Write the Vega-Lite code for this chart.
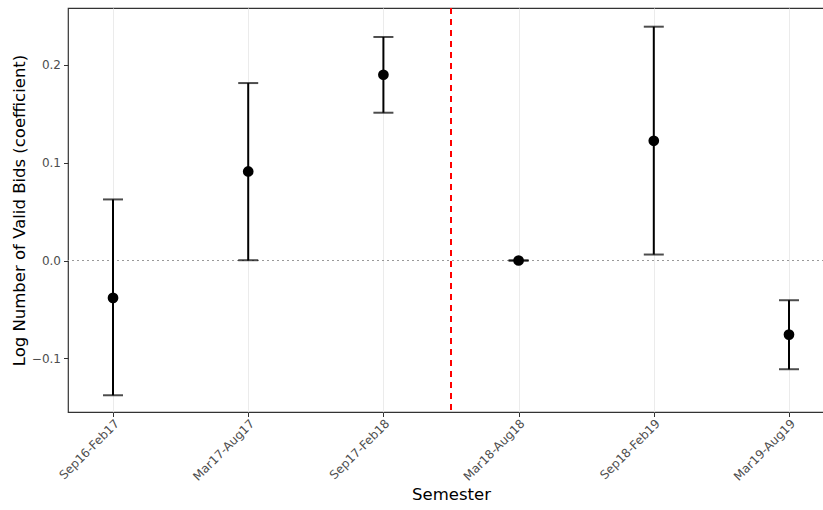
{
  "$schema": "https://vega.github.io/schema/vega-lite/v6.json",
  "autosize": "none",
  "padding": {"left": 68, "top": 8, "right": 0, "bottom": 98},
  "width": 766,
  "height": 404,
  "background": "white",
  "config": {
    "font": "DejaVu Sans",
    "view": {"stroke": "#333333", "strokeWidth": 1.2},
    "axis": {
      "domain": false,
      "gridColor": "#ebebeb",
      "gridWidth": 1,
      "tickColor": "#333333",
      "tickSize": 4.5,
      "labelColor": "#4d4d4d",
      "labelFontSize": 12,
      "labelFont": "DejaVu Sans",
      "titleFont": "DejaVu Sans",
      "titleFontSize": 16.5,
      "titleFontWeight": "normal",
      "titleColor": "black"
    }
  },
  "data": {
    "values": [
      {"idx": 1, "semester": "Sep16-Feb17", "est": -0.0382, "lo": -0.1377, "hi": 0.0624},
      {"idx": 2, "semester": "Mar17-Aug17", "est": 0.091, "lo": 0.0003, "hi": 0.1813},
      {"idx": 3, "semester": "Sep17-Feb18", "est": 0.1898, "lo": 0.151, "hi": 0.2284},
      {"idx": 4, "semester": "Mar18-Aug18", "est": 0.0, "lo": 0.0, "hi": 0.0},
      {"idx": 5, "semester": "Sep18-Feb19", "est": 0.1223, "lo": 0.0061, "hi": 0.2389},
      {"idx": 6, "semester": "Mar19-Aug19", "est": -0.0757, "lo": -0.1111, "hi": -0.0406}
    ]
  },
  "encoding": {
    "x": {
      "field": "idx",
      "type": "quantitative",
      "scale": {"domain": [0.667, 6.333], "nice": false, "zero": false},
      "axis": {
        "title": "Semester",
        "values": [1, 2, 3, 4, 5, 6],
        "labelExpr": "['','Sep16-Feb17','Mar17-Aug17','Sep17-Feb18','Mar18-Aug18','Sep18-Feb19','Mar19-Aug19'][datum.value]",
        "labelAngle": -45,
        "labelAlign": "right",
        "labelBaseline": "top",
        "labelPadding": 1,
        "titlePadding": 4
      }
    }
  },
  "layer": [
    {
      "mark": {"type": "rule", "color": "#999999", "strokeWidth": 1, "strokeDash": [2, 3]},
      "encoding": {"x": null, "y": {"datum": 0, "type": "quantitative"}}
    },
    {
      "mark": {"type": "rule", "color": "#ff0000", "strokeWidth": 1.6, "strokeDash": [6, 5]},
      "encoding": {"x": {"datum": 3.5, "type": "quantitative"}}
    },
    {
      "mark": {"type": "rule", "color": "black", "strokeWidth": 2},
      "encoding": {
        "y": {
          "field": "lo",
          "type": "quantitative",
          "scale": {"domain": [-0.1548, 0.258], "nice": false, "zero": false},
          "axis": {
            "title": "Log Number of Valid Bids (coefficient)",
            "values": [-0.1, 0, 0.1, 0.2],
            "format": ".1f",
            "labelPadding": 3,
            "titlePadding": 4
          }
        },
        "y2": {"field": "hi"}
      }
    },
    {
      "mark": {"type": "tick", "color": "black", "thickness": 2, "size": 20, "orient": "horizontal"},
      "encoding": {"y": {"field": "lo", "type": "quantitative"}}
    },
    {
      "mark": {"type": "tick", "color": "black", "thickness": 2, "size": 20, "orient": "horizontal"},
      "encoding": {"y": {"field": "hi", "type": "quantitative"}}
    },
    {
      "mark": {"type": "circle", "color": "black", "opacity": 1, "size": 115},
      "encoding": {"y": {"field": "est", "type": "quantitative"}}
    }
  ]
}
